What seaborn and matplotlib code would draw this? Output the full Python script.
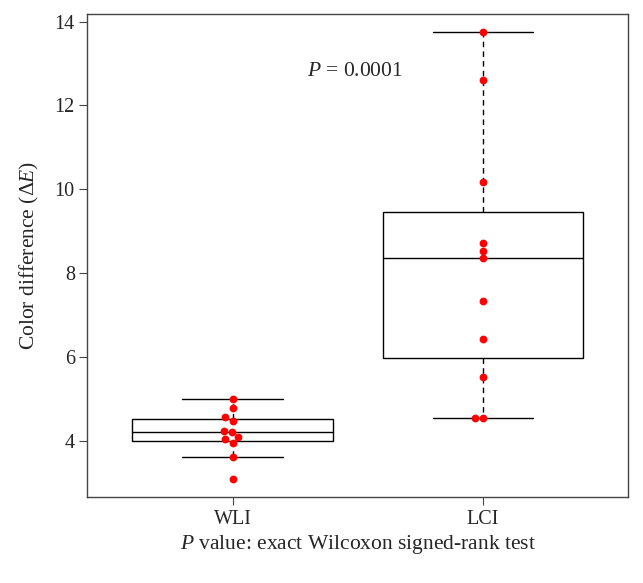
import matplotlib
matplotlib.use("Agg")
import matplotlib.pyplot as plt
import seaborn as sns
import pandas as pd

# values (color difference, delta E)
groups = ["WLI", "LCI"]
wli_values = [5.00, 4.79, 4.56, 4.47, 4.24, 4.21, 4.09, 4.05, 3.96, 3.62, 3.09]
lci_values = [13.76, 12.61, 10.17, 8.73, 8.54, 8.35, 7.33, 6.44, 5.53, 4.54, 4.54]
y_ticks = [4, 6, 8, 10, 12, 14]
p_text = "$P$ = 0.0001"

df = pd.DataFrame({
    "group": ["WLI"] * len(wli_values) + ["LCI"] * len(lci_values),
    "delta_e": wli_values + lci_values,
})

sns.set_style("white")
plt.rcParams["font.family"] = ["Liberation Serif", "DejaVu Serif"]
plt.rcParams["mathtext.fontset"] = "custom"
plt.rcParams["mathtext.rm"] = "Liberation Serif"
plt.rcParams["mathtext.it"] = "Liberation Serif:italic"
plt.rcParams["font.size"] = 15

fig = plt.figure(figsize=(6.43, 5.83), dpi=100)
ax = fig.add_axes([0.1358, 0.1475, 0.8413, 0.829])

sns.boxplot(
    data=df, x="group", y="delta_e", order=groups, ax=ax,
    width=0.8, color="white", linecolor="black", linewidth=1.0,
    showfliers=False,
    whiskerprops=dict(linestyle=(0, (4, 3)), linewidth=1.0),
    capprops=dict(linestyle="-", linewidth=1.0),
)
sns.swarmplot(
    data=df, x="group", y="delta_e", order=groups, ax=ax,
    color="#ff0000", size=5.6, linewidth=0,
)

ax.set_xlim(-0.58, 1.58)
ax.set_ylim(2.66, 14.19)
ax.set_yticks(y_ticks)
ax.set_xlabel("$P$ value: exact Wilcoxon signed-rank test", fontsize=15.5, labelpad=3)
ax.set_ylabel("Color difference (Δ$E$)", fontsize=15.5, labelpad=10)
ax.text(0.49, 12.81, p_text, ha="center", va="center", fontsize=15.5)

for side in ["top", "right", "left", "bottom"]:
    ax.spines[side].set_visible(True)
    ax.spines[side].set_color("#444444")
    ax.spines[side].set_linewidth(1.0)
ax.tick_params(axis="both", direction="out", length=6, width=0.8, color="#444444",
               labelsize=14.5, bottom=True, left=True, pad=3)

fig.savefig("out.png", dpi=100)
